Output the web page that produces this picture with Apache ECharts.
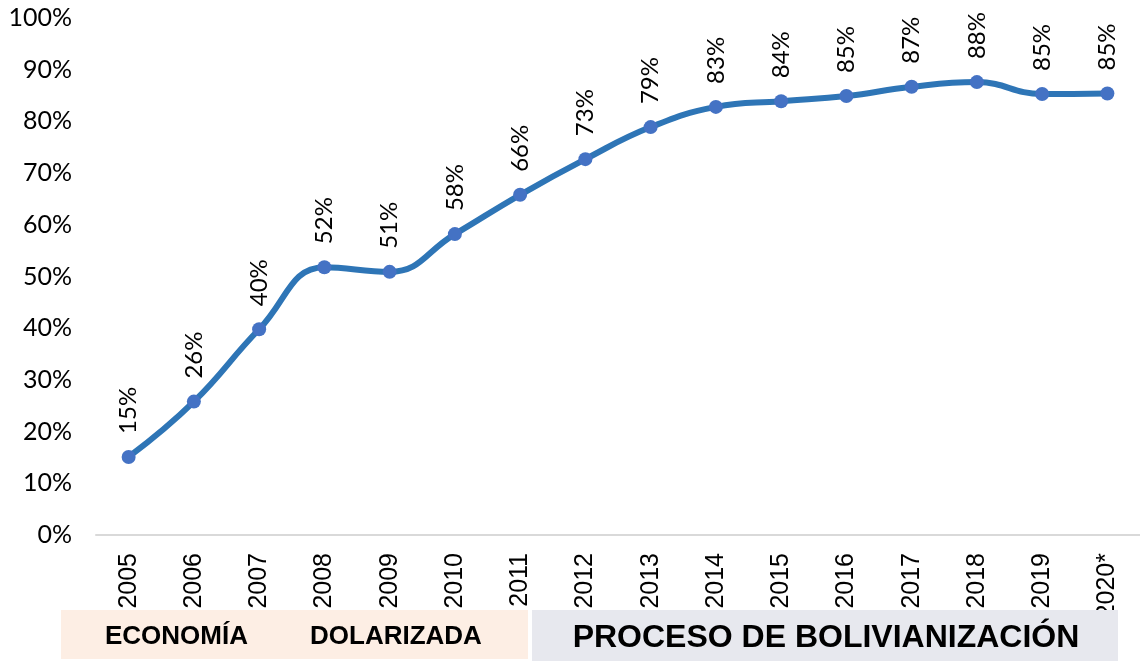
<!DOCTYPE html>
<html>
<head>
<meta charset="utf-8">
<script src="https://cdn.jsdelivr.net/npm/echarts@6/dist/echarts.min.js"></script>
<style>
  html, body { margin: 0; padding: 0; background: #fff; }
  #chart { width: 1140px; height: 661px; }
</style>
</head>
<body>
<div id="chart"></div>
<script>
// years on the x axis
const years = ['2005', '2006', '2007', '2008', '2009', '2010', '2011', '2012',
  '2013', '2014', '2015', '2016', '2017', '2018', '2019', '2020*']
// share in percent
const shares = [15.1, 25.8, 39.8, 51.8, 50.9, 58.2, 65.8, 72.7,
  78.9, 82.8, 83.9, 84.9, 86.7, 87.6, 85.3, 85.4]
const yTicks = [0, 10, 20, 30, 40, 50, 60, 70, 80, 90, 100]
const bandLeft = 'ECONOMÍA'
const bandLeft2 = 'DOLARIZADA'
const bandRight = 'PROCESO DE BOLIVIANIZACIÓN'

const chart = echarts.init(document.getElementById('chart'))

chart.setOption({
  animation: false,
  grid: {
    top: 18,
    left: 96,
    right: -8,
    bottom: 126,
    containLabel: false
  },
  xAxis: {
    type: 'category',
    data: years,
    axisLine: { lineStyle: { color: '#d9d9d9', width: 2 } },
    axisTick: { show: false },
    axisLabel: {
      rotate: 90,
      margin: 18,
      color: '#000',
      fontSize: 25,
      fontFamily: 'Liberation Sans, Arial, sans-serif'
    }
  },
  yAxis: {
    type: 'value',
    min: yTicks[0],
    max: yTicks[yTicks.length - 1],
    interval: 10,
    splitLine: { show: false },
    axisLine: { show: false },
    axisTick: { show: false },
    axisLabel: {
      margin: 24,
      color: '#000',
      fontSize: 25,
      fontFamily: 'Lato, sans-serif',
      formatter: v => v + '%'
    }
  },
  series: [
    {
      type: 'line',
      data: shares,
      smooth: 0.45,
      symbol: 'circle',
      symbolSize: 14,
      lineStyle: { color: '#2e75b6', width: 6 },
      itemStyle: { color: '#4472c4' },
      label: {
        show: true,
        position: 'top',
        distance: 16,
        rotate: 90,
        align: 'left',
        verticalAlign: 'middle',
        color: '#000',
        fontSize: 24,
        fontFamily: 'Lato, sans-serif',
        formatter: p => Math.round(p.value) + '%'
      }
    }
  ],
  graphic: [
    {
      type: 'rect',
      z: 100,
      shape: { x: 61, y: 610, width: 467, height: 49 },
      style: { fill: '#fdeee4' }
    },
    {
      type: 'rect',
      z: 100,
      shape: { x: 532, y: 610, width: 586, height: 51 },
      style: { fill: '#e7e8ee' }
    },
    {
      type: 'text',
      z: 101,
      x: 105,
      y: 637,
      style: {
        text: bandLeft,
        fill: '#000',
        font: 'bold 26px "Liberation Sans", Arial, sans-serif',
        verticalAlign: 'middle'
      }
    },
    {
      type: 'text',
      z: 101,
      x: 310,
      y: 637,
      style: {
        text: bandLeft2,
        fill: '#000',
        font: 'bold 26px "Liberation Sans", Arial, sans-serif',
        verticalAlign: 'middle'
      }
    },
    {
      type: 'text',
      z: 101,
      x: 826,
      y: 638,
      style: {
        text: bandRight,
        fill: '#000',
        font: 'bold 32px "Liberation Sans", Arial, sans-serif',
        align: 'center',
        verticalAlign: 'middle'
      }
    }
  ]
})
</script>
</body>
</html>
